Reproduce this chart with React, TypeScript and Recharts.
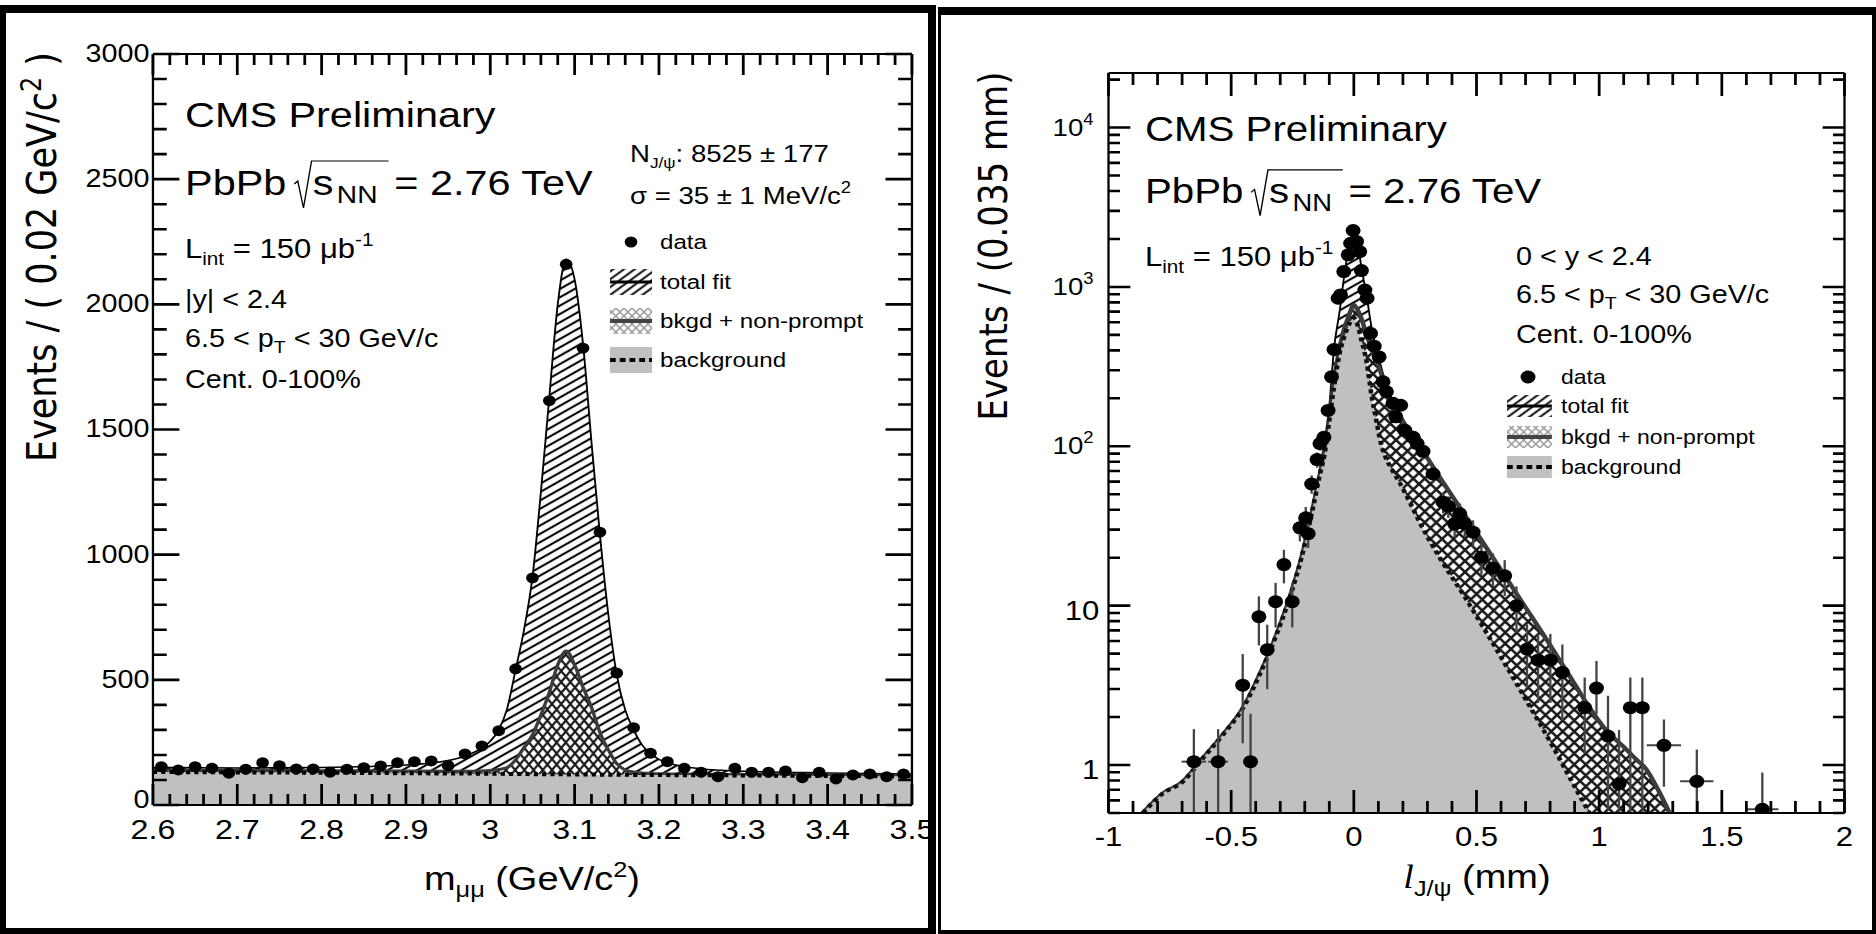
import React from 'react';
import { ComposedChart, Area, Scatter, XAxis, YAxis, ErrorBar, ReferenceLine } from 'recharts';

const STRETCH = 1.15;
const H = 934;
const SANS = '"Liberation Sans", Arial, Helvetica, sans-serif';
const WIDE = '"DejaVu Sans", Verdana, sans-serif';
const SERIF = '"Liberation Serif", "Times New Roman", serif';

// ================= Left panel: dimuon invariant mass =================
const massFitX = [2.6, 2.7, 2.8, 2.9, 2.95, 2.97, 2.99, 3.0, 3.01, 3.02, 3.03, 3.04, 3.05, 3.06, 3.07, 3.08, 3.09, 3.1, 3.11, 3.12, 3.13, 3.14, 3.15, 3.16, 3.17, 3.18, 3.19, 3.2, 3.22, 3.25, 3.3, 3.4, 3.5];
const massTotalFit = [150, 148, 150, 160, 178, 195, 228, 255, 300, 385, 540, 700, 910, 1250, 1630, 2000, 2180, 2100, 1840, 1450, 1080, 760, 520, 380, 300, 240, 205, 182, 160, 145, 135, 128, 124];
const massBkgNonPrompt = [140, 138, 137, 136, 135, 135, 136, 138, 142, 150, 180, 230, 280, 360, 450, 560, 615, 560, 470, 390, 290, 220, 165, 140, 132, 128, 126, 125, 124, 123, 122, 120, 118];
const massBackground = [132, 130, 129, 127, 126, 126, 125, 125, 125, 124, 124, 124, 123, 123, 123, 123, 122, 122, 122, 122, 121, 121, 121, 121, 120, 120, 120, 120, 119, 119, 118, 116, 115];
const massDataX = [2.61, 2.63, 2.65, 2.67, 2.69, 2.71, 2.73, 2.75, 2.77, 2.79, 2.81, 2.83, 2.85, 2.87, 2.89, 2.91, 2.93, 2.95, 2.97, 2.99, 3.01, 3.03, 3.05, 3.07, 3.09, 3.11, 3.13, 3.15, 3.17, 3.19, 3.21, 3.23, 3.25, 3.27, 3.29, 3.31, 3.33, 3.35, 3.37, 3.39, 3.41, 3.43, 3.45, 3.47, 3.49];
const massDataY = [153, 140, 153, 147, 127, 143, 169, 157, 144, 144, 131, 143, 149, 156, 169, 173, 176, 157, 204, 236, 297, 544, 907, 1615, 2160, 1825, 1090, 527, 309, 207, 173, 147, 131, 113, 147, 131, 131, 136, 109, 131, 104, 120, 124, 113, 124];
const massXMajor = [2.6, 2.7, 2.8, 2.9, 3.0, 3.1, 3.2, 3.3, 3.4, 3.5];
const massXLabels = ['2.6', '2.7', '2.8', '2.9', '3', '3.1', '3.2', '3.3', '3.4', '3.5'];
const massYMajor = [0, 500, 1000, 1500, 2000, 2500, 3000];
const massYLabels = ['0', '500', '1000', '1500', '2000', '2500', '3000'];

// ================= Right panel: pseudo-proper decay length =================
const lifeFitX = [-0.86, -0.78, -0.7, -0.614, -0.532, -0.451, -0.383, -0.315, -0.261, -0.213, -0.172, -0.138, -0.12, -0.1, -0.08, -0.057, -0.04, -0.02, -0.01, 0.0, 0.015, 0.03, 0.052, 0.072, 0.09, 0.11, 0.13, 0.15, 0.19, 0.23, 0.27, 0.35, 0.45, 0.54, 0.676, 0.812, 0.907, 0.96, 1.03, 1.1, 1.152, 1.19, 1.24, 1.287];
const lifeTotalFit = [0.5, 0.66, 0.78, 1.11, 1.56, 2.29, 3.72, 6.6, 11.3, 20.1, 37.7, 67, 100, 180, 420, 717, 1150, 1800, 2050, 2300, 1950, 1350, 880, 560, 420, 320, 250, 205, 158, 125, 100, 64, 37.5, 23.2, 11.1, 5.3, 3.1, 2.3, 1.64, 1.3, 1.08, 0.95, 0.7, 0.5];
const lifeBkgNonPrompt = [0.5, 0.66, 0.78, 1.11, 1.56, 2.29, 3.72, 6.6, 11.3, 20.1, 37.7, 67, 95, 150, 260, 420, 540, 660, 730, 770, 720, 640, 500, 410, 350, 290, 240, 195, 152, 120, 99, 64, 37.5, 23.2, 11.1, 5.3, 3.1, 2.3, 1.64, 1.3, 1.08, 0.95, 0.7, 0.5];
const lifeBackground = [0.5, 0.66, 0.78, 1.11, 1.56, 2.29, 3.72, 6.6, 11.3, 20.1, 37.7, 67, 88, 145, 240, 390, 480, 580, 620, 640, 580, 470, 340, 210, 150, 105, 85, 74, 58, 44, 33, 20, 11.5, 6.8, 3.0, 1.3, 0.7, 0.5, null, null, null, null, null, null];
const lifeDataX = [-0.652, -0.553, -0.453, -0.421, -0.387, -0.353, -0.319, -0.285, -0.251, -0.22, -0.196, -0.186, -0.172, -0.15, -0.138, -0.122, -0.105, -0.091, -0.081, -0.064, -0.054, -0.041, -0.023, -0.013, -0.003, 0.011, 0.024, 0.031, 0.045, 0.054, 0.068, 0.083, 0.103, 0.119, 0.133, 0.16, 0.171, 0.191, 0.208, 0.242, 0.258, 0.282, 0.323, 0.364, 0.385, 0.411, 0.432, 0.452, 0.486, 0.52, 0.567, 0.615, 0.663, 0.706, 0.751, 0.801, 0.85, 0.941, 0.989, 1.036, 1.081, 1.127, 1.176, 1.264, 1.398, 1.665];
const lifeDataY = [1.05, 1.05, 3.17, 1.05, 8.53, 5.29, 10.6, 18.1, 10.6, 30.8, 35.6, 28.3, 58, 82.5, 104, 114, 168, 273, 405, 849, 891, 1248, 1590, 1880, 2260, 1930, 1667, 1266, 957, 849, 511, 425, 364, 254, 220, 186, 153, 181, 126, 114, 104, 93, 67, 44.6, 42, 32.5, 37.7, 32.7, 28.9, 20.1, 17.2, 15.4, 10, 5.34, 4.55, 4.55, 3.81, 2.29, 3.04, 1.52, 0.76, 2.29, 2.29, 1.33, 0.79, 0.527];
const lifeErrLow = [0.55, 0.55, 1.8, 0.55, 2.9, 2.3, 3.3, 4.3, 3.3, 5.5, 6, 5.3, 7.6, 9, 10, 10.7, 13, 16.5, 20, 29, 30, 35, 40, 43, 47, 44, 41, 36, 31, 29, 23, 21, 19, 16, 15, 14, 12, 13, 11, 11, 10, 10, 8, 6.7, 6.5, 5.7, 6.1, 5.7, 5.4, 4.5, 4.1, 3.9, 3.2, 2.3, 2.1, 2.1, 1.9, 1.1, 0.95, 1.0, 0.26, 1.79, 1.79, 0.6, 0.29, 0.027];
const lifeErrHigh = [0.63, 0.63, 1.8, 1.05, 2.9, 2.3, 3.3, 4.3, 3.3, 5.5, 6, 5.3, 7.6, 9, 10, 10.7, 13, 16.5, 20, 29, 30, 35, 40, 43, 47, 44, 41, 36, 31, 29, 23, 21, 19, 16, 15, 14, 12, 13, 11, 11, 10, 10, 8, 6.7, 6.5, 5.7, 6.1, 5.7, 5.4, 4.5, 4.1, 3.9, 3.2, 2.3, 2.1, 2.1, 1.9, 1.25, 1.46, 1.2, 0.9, 1.25, 1.25, 0.6, 0.46, 0.37];
const lifeErrX = [0.05, 0.04, 0, 0, 0, 0, 0, 0, 0, 0, 0, 0, 0, 0, 0, 0, 0, 0, 0, 0, 0, 0, 0, 0, 0, 0, 0, 0, 0, 0, 0, 0, 0, 0, 0, 0, 0, 0, 0, 0, 0, 0, 0, 0, 0, 0, 0, 0, 0, 0, 0, 0, 0, 0, 0, 0, 0, 0, 0, 0, 0, 0, 0, 0.07, 0.068, 0.066];
const lifeXMajor = [-1, -0.5, 0, 0.5, 1, 1.5, 2];
const lifeXLabels = ['-1', '-0.5', '0', '0.5', '1', '1.5', '2'];
const lifeYMajor = [1, 10, 100, 1000, 10000];
const lifeYBase = ['1', '10', '10', '10', '10'];
const lifeYExp = ['', '', '2', '3', '4'];

// ================= tables built for the library =================
const massRows = massFitX.map((x, i) => ({ x, tot: massTotalFit[i], bnp: massBkgNonPrompt[i], bkg: massBackground[i] }));
const massPoints = massDataX.map((x, i) => ({ x, y: massDataY[i] }));
const lifeRows = lifeFitX.map((x, i) => ({ x, tot: lifeTotalFit[i], bnp: lifeBkgNonPrompt[i], bkg: lifeBackground[i] }));
const lifePoints = lifeDataX.map((x, i) => ({ x, y: lifeDataY[i], ey: [lifeErrLow[i], lifeErrHigh[i]], ex: lifeErrX[i] }));

function withMinors(majors: number[], n: number) {
  const out: number[] = [...majors];
  for (let i = 0; i < majors.length - 1; i++) {
    const step = (majors[i + 1] - majors[i]) / n;
    for (let j = 1; j < n; j++) out.push(+(majors[i] + j * step).toFixed(6));
  }
  return out.sort((a, b) => a - b);
}
function logTicks() {
  const out: number[] = [0.5, 0.6, 0.7, 0.8, 0.9];
  [1, 10, 100, 1000].forEach((d) => { for (let m = 1; m <= 9; m++) out.push(m * d); });
  out.push(10000, 20000);
  return out;
}

const near = (a: number, b: number) => Math.abs(a - b) < 1e-6 * Math.max(1, Math.abs(b));
const isMajor = (arr: number[], v: number) => arr.some((m) => near(m, v));

// ---- layout (internal, before horizontal stretch) ----
const LW = 814;
const L_YW = 133;
const L_RM = 21;
const L_TOP = 54;
const L_XH = 129;
const L_PL = L_YW;
const L_PR = LW - L_RM;
const L_PT = L_TOP;
const L_PB = H - L_XH;

const RW = 817;
const R_YW = 150;
const R_RM = 27;
const R_TOP = 73;
const R_XH = 121;
const R_PL = R_YW;
const R_PR = RW - R_RM;
const R_PT = R_TOP;
const R_PB = H - R_XH;

// ---- frame tick marks (inward, all four sides), placed with the same linear / log mapping as the axes ----
function FrameTicks({ xPos, yPos, pl, pr, pt, pb, xl, yl }: any) {
  let d = '';
  xPos.forEach(([p, maj]: [number, boolean]) => {
    const len = maj ? xl[0] : xl[1];
    d += `M${p.toFixed(2)},${pb} V${(pb - len).toFixed(2)} M${p.toFixed(2)},${pt} V${(pt + len).toFixed(2)} `;
  });
  let e = '';
  yPos.forEach(([p, maj]: [number, boolean]) => {
    const len = maj ? yl[0] : yl[1];
    e += `M${pl},${p.toFixed(2)} H${(pl + len).toFixed(2)} M${pr},${p.toFixed(2)} H${(pr - len).toFixed(2)} `;
  });
  return (
    <g>
      <path d={d} stroke="#000" strokeWidth={2.4} fill="none" />
      <path d={e} stroke="#000" strokeWidth={2.6} fill="none" />
    </g>
  );
}
const massTickX = withMinors(massXMajor, 5).map((v) => [L_PL + ((v - 2.6) / 0.9) * (L_PR - L_PL), isMajor(massXMajor, v)]);
const massTickY = withMinors(massYMajor, 5).map((v) => [L_PB - (v / 3000) * (L_PB - L_PT), isMajor(massYMajor, v)]);
const LOG_LO = Math.log10(0.5);
const LOG_HI = Math.log10(22000);
const lifeTickX = withMinors(lifeXMajor, 5).map((v) => [R_PL + ((v + 1) / 3) * (R_PR - R_PL), isMajor(lifeXMajor, v)]);
const lifeTickY = logTicks().map((v) => [R_PB - ((Math.log10(v) - LOG_LO) / (LOG_HI - LOG_LO)) * (R_PB - R_PT), isMajor(lifeYMajor, v)]);

// ---- tick labels ----
function makeXLabel(majors: number[], labels: string[], fs: number, off: number) {
  return (props: any) => {
    const { x, y, payload } = props;
    const idx = majors.findIndex((m) => near(m, payload.value));
    if (idx < 0) return <g />;
    return <text x={x} y={y + off} textAnchor="middle" fontSize={fs} fontFamily={SANS} fill="#000">{labels[idx]}</text>;
  };
}
function makeYLabel(majors: number[], labels: string[], fs: number, gap: number, base: number, baseFirst: number) {
  return (props: any) => {
    const { x, y, payload } = props;
    const idx = majors.findIndex((m) => near(m, payload.value));
    if (idx < 0) return <g />;
    return <text x={x - gap} y={y + (idx === 0 ? baseFirst : base)} textAnchor="end" fontSize={fs} fontFamily={SANS} fill="#000">{labels[idx]}</text>;
  };
}
function lifeYLabel(props: any) {
  const { x, y, payload } = props;
  const idx = lifeYMajor.findIndex((m) => near(m, payload.value));
  if (idx < 0) return <g />;
  if (lifeYExp[idx]) {
    return (
      <text x={x - 13} y={y + 8} textAnchor="end" fontSize={24} fontFamily={SANS} fill="#000">
        {lifeYBase[idx]}
        <tspan fontSize={16} dy={-11}>{lifeYExp[idx]}</tspan>
      </text>
    );
  }
  return <text x={x - 8} y={y + 14} textAnchor="end" fontSize={27} fontFamily={SANS} fill="#000">{lifeYBase[idx]}</text>;
}

const dot = (r: number) => (p: any) => <circle cx={p.cx} cy={p.cy} r={r} fill="#000" />;

function Patterns({ p, cw, ch, xw }: { p: string; cw: number; ch: number; xw: number }) {
  return (
    <defs>
      <pattern id={p + 'Hatch'} patternUnits="userSpaceOnUse" width={8} height={7} patternTransform="rotate(-33)">
        <rect width={8} height={7} fill="#fff" />
        <line x1={0} y1={3.5} x2={8} y2={3.5} stroke="#000" strokeWidth={2} />
      </pattern>
      <pattern id={p + 'XHatch'} patternUnits="userSpaceOnUse" width={cw} height={ch}>
        <rect width={cw} height={ch} fill="#fff" />
        <path d={`M0,0 L${cw},${ch} M${cw},0 L0,${ch}`} stroke="#1a1a1a" strokeWidth={xw} />
      </pattern>
    </defs>
  );
}

function MassChart() {
  return (
    <ComposedChart width={LW} height={H} data={massRows} margin={{ top: L_TOP, right: L_RM, bottom: 0, left: 0 }}>
      <Patterns p="m" cw={8} ch={11} xw={2} />
      <Area type="monotone" dataKey="tot" stroke="#000" strokeWidth={1.6} fill="url(#mHatch)" fillOpacity={1} dot={false} activeDot={false} isAnimationActive={false} />
      <Area type="monotone" dataKey="bnp" stroke="#3c3c3c" strokeWidth={3} fill="url(#mXHatch)" fillOpacity={1} dot={false} activeDot={false} isAnimationActive={false} />
      <Area type="monotone" dataKey="bkg" stroke="#000" strokeWidth={4} strokeDasharray="3.6 3.6" fill="#c0c0c0" fillOpacity={1} dot={false} activeDot={false} isAnimationActive={false} />
      <Scatter data={massPoints} dataKey="y" shape={dot(5.5)} isAnimationActive={false} />
      <ReferenceLine y={3000} stroke="#000" strokeWidth={2.2} />
      <ReferenceLine x={3.5} stroke="#000" strokeWidth={2} />
      <XAxis type="number" dataKey="x" domain={[2.6, 3.5]} allowDataOverflow ticks={massXMajor} interval={0}
        tick={makeXLabel(massXMajor, massXLabels, 28, 34)} tickLine={false} tickSize={0} tickMargin={0}
        axisLine={{ stroke: '#000', strokeWidth: 2.2 }} height={L_XH} />
      <YAxis type="number" domain={[0, 3000]} allowDataOverflow ticks={massYMajor} interval={0}
        tick={makeYLabel(massYMajor, massYLabels, 25, 3, 8, 3)} tickLine={false} tickSize={0} tickMargin={0}
        axisLine={{ stroke: '#000', strokeWidth: 2 }} width={L_YW} />
    </ComposedChart>
  );
}

function LifeChart() {
  return (
    <ComposedChart width={RW} height={H} data={lifeRows} margin={{ top: R_TOP, right: R_RM, bottom: 0, left: 0 }}>
      <Patterns p="l" cw={10} ch={11} xw={2.4} />
      <Area type="monotone" dataKey="tot" stroke="#000" strokeWidth={1.6} fill="url(#lHatch)" fillOpacity={1} dot={false} activeDot={false} isAnimationActive={false} />
      <Area type="monotone" dataKey="bnp" stroke="#3c3c3c" strokeWidth={4} fill="url(#lXHatch)" fillOpacity={1} dot={false} activeDot={false} isAnimationActive={false} />
      <Area type="monotone" dataKey="bkg" stroke="#111" strokeWidth={4} strokeDasharray="4 3.5" fill="#c0c0c0" fillOpacity={1} dot={false} activeDot={false} isAnimationActive={false} />
      <Scatter data={lifePoints} dataKey="y" shape={dot(6.5)} isAnimationActive={false}>
        <ErrorBar dataKey="ey" direction="y" width={0} stroke="#444" strokeWidth={2} isAnimationActive={false} />
        <ErrorBar dataKey="ex" direction="x" width={0} stroke="#444" strokeWidth={2} isAnimationActive={false} />
      </Scatter>
      <ReferenceLine y={22000} stroke="#000" strokeWidth={2.2} />
      <ReferenceLine x={2} stroke="#000" strokeWidth={2} />
      <XAxis type="number" dataKey="x" domain={[-1, 2]} allowDataOverflow ticks={lifeXMajor} interval={0}
        tick={makeXLabel(lifeXMajor, lifeXLabels, 27, 33)} tickLine={false} tickSize={0} tickMargin={0}
        axisLine={{ stroke: '#000', strokeWidth: 2.2 }} height={R_XH} />
      <YAxis type="number" scale="log" domain={[0.5, 22000]} allowDataOverflow ticks={lifeYMajor} interval={0}
        tick={lifeYLabel} tickLine={false} tickSize={0} tickMargin={0}
        axisLine={{ stroke: '#000', strokeWidth: 2 }} width={R_YW} />
    </ComposedChart>
  );
}

function PbPb({ x, y, fs }: { x: number; y: number; fs: number }) {
  const s = fs / 36;
  return (
    <g>
      <text x={x} y={y} fontSize={fs}>PbPb</text>
      <polyline points={`${x + 95 * s},${y - 11 * s} ${x + 98 * s},${y - 14 * s} ${x + 103 * s},${y + 13 * s} ${x + 110 * s},${y - 34 * s} ${x + 177 * s},${y - 34 * s}`}
        fill="none" stroke="#000" strokeWidth={1.2} />
      <text x={x + 111 * s} y={y} fontSize={fs}>s</text>
      <text x={x + 132 * s} y={y + 8 * s} fontSize={fs * 0.68}>NN</text>
      <text x={x + 182 * s} y={y} fontSize={fs}>= 2.76 TeV</text>
    </g>
  );
}

function LegendBox({ pfx, x0, w, h, cx, r, tx, fs, rows }: any) {
  const names = ['data', 'total fit', 'bkgd + non-prompt', 'background'];
  return (
    <g>
      <defs>
        <pattern id={pfx + 'lgH'} patternUnits="userSpaceOnUse" width={7} height={6} patternTransform="rotate(-40)">
          <rect width={7} height={6} fill="#fff" />
          <line x1={0} y1={3} x2={7} y2={3} stroke="#000" strokeWidth={1.8} />
        </pattern>
        <pattern id={pfx + 'lgX'} patternUnits="userSpaceOnUse" width={7} height={8}>
          <rect width={7} height={8} fill="#fff" />
          <path d="M0,0 L7,8 M7,0 L0,8" stroke="#999" strokeWidth={1.4} />
        </pattern>
      </defs>
      <circle cx={cx} cy={rows[0]} r={r} fill="#000" />
      <rect x={x0} y={rows[1] - h / 2} width={w} height={h} fill={`url(#${pfx}lgH)`} />
      <line x1={x0} x2={x0 + w} y1={rows[1]} y2={rows[1]} stroke="#000" strokeWidth={3} />
      <rect x={x0} y={rows[2] - h / 2} width={w} height={h} fill={`url(#${pfx}lgX)`} />
      <line x1={x0} x2={x0 + w} y1={rows[2]} y2={rows[2]} stroke="#444" strokeWidth={4} />
      <rect x={x0} y={rows[3] - h / 2} width={w} height={h} fill="#c0c0c0" />
      <line x1={x0} x2={x0 + w} y1={rows[3]} y2={rows[3]} stroke="#000" strokeWidth={4} strokeDasharray="5 3.5" />
      {names.map((n, i) => (
        <text key={n} x={tx} y={rows[i] + fs * 0.33} fontSize={fs}>{n}</text>
      ))}
    </g>
  );
}

function MassOverlay() {
  return (
    <svg width={LW} height={H} fontFamily={SANS} fill="#000" style={{ position: 'absolute', left: 0, top: 0, pointerEvents: 'none' }}>
      <FrameTicks xPos={massTickX} yPos={massTickY} pl={L_PL} pr={L_PR} pt={L_PT} pb={L_PB} xl={[21, 11]} yl={[23, 12]} />
      <text x={160.9} y={127} fontSize={36}>CMS Preliminary</text>
      <PbPb x={160.9} y={195} fs={36} />
      <text x={160.9} y={258} fontSize={27}>L<tspan fontSize={18} dy={7}>int</tspan><tspan dy={-7}> = 150 μb</tspan><tspan fontSize={18} dy={-12}>-1</tspan></text>
      <text x={160.9} y={308} fontSize={25}>{'|y| < 2.4'}</text>
      <text x={160.9} y={347} fontSize={25}>{'6.5 < p'}<tspan fontSize={17} dy={6}>T</tspan><tspan dy={-6}>{' < 30 GeV/c'}</tspan></text>
      <text x={160.9} y={388} fontSize={25}>Cent. 0-100%</text>
      <text x={547.8} y={162} fontSize={24}>N<tspan fontSize={15} dy={6}>J/ψ</tspan><tspan dy={-6}>: 8525 ± 177</tspan></text>
      <text x={547.8} y={204} fontSize={24}>σ = 35 ± 1 MeV/c<tspan fontSize={16} dy={-11}>2</tspan></text>
      <LegendBox pfx="m" x0={530.4} w={36.6} h={26} cx={548.7} r={5.5} tx={573.9} fs={21} rows={[242, 282, 321, 360]} />
      <text transform="translate(49,257) rotate(-90)" textAnchor="middle" fontSize={35} fontFamily={WIDE}>
        Events / ( 0.02 GeV/c<tspan fontSize={24} dy={-13}>2</tspan><tspan dy={13}> )</tspan>
      </text>
      <text x={462.6} y={890} textAnchor="middle" fontSize={33}>
        m<tspan fontSize={22} dy={7}>μμ</tspan><tspan dy={-7}> (GeV/c</tspan><tspan fontSize={22} dy={-13}>2</tspan><tspan dy={13}>)</tspan>
      </text>
    </svg>
  );
}

function LifeOverlay() {
  return (
    <svg width={RW} height={H} fontFamily={SANS} fill="#000" style={{ position: 'absolute', left: 0, top: 0, pointerEvents: 'none' }}>
      <FrameTicks xPos={lifeTickX} yPos={lifeTickY} pl={R_PL} pr={R_PR} pt={R_PT} pb={R_PB} xl={[23, 12]} yl={[19, 10]} />
      <text x={181.7} y={141} fontSize={35}>CMS Preliminary</text>
      <PbPb x={181.7} y={203} fs={35} />
      <text x={181.7} y={266} fontSize={27}>L<tspan fontSize={18} dy={7}>int</tspan><tspan dy={-7}> = 150 μb</tspan><tspan fontSize={18} dy={-12}>-1</tspan></text>
      <text x={504.3} y={265} fontSize={25}>{'0 < y < 2.4'}</text>
      <text x={504.3} y={303} fontSize={25}>{'6.5 < p'}<tspan fontSize={17} dy={6}>T</tspan><tspan dy={-6}>{' < 30 GeV/c'}</tspan></text>
      <text x={504.3} y={343} fontSize={25}>Cent. 0-100%</text>
      <LegendBox pfx="l" x0={496.5} w={39} h={22} cx={514.8} r={6.5} tx={543.5} fs={20} rows={[377, 406, 437, 467]} />
      <text transform="translate(62,246) rotate(-90)" textAnchor="middle" fontSize={34} fontFamily={WIDE}>Events / (0.035 mm)</text>
      <text x={470.4} y={888} textAnchor="middle" fontSize={33}>
        <tspan fontFamily={SERIF} fontStyle="italic">l</tspan><tspan fontSize={22} dy={8}>J/ψ</tspan><tspan dy={-8}> (mm)</tspan>
      </text>
    </svg>
  );
}

const bar = (l: number, t: number, w: number, h: number) => (
  <div style={{ position: 'absolute', left: l, top: t, width: w, height: h, background: '#000' }} />
);

export default function App() {
  return (
    <div style={{ position: 'absolute', left: 0, top: 0, width: 1876, height: H, background: '#fff', overflow: 'hidden' }}>
      <div style={{ position: 'absolute', left: 0, top: 0, width: LW, height: H, transform: `scaleX(${STRETCH})`, transformOrigin: '0 0' }}>
        <MassChart />
        <MassOverlay />
      </div>
      <div style={{ position: 'absolute', left: 936, top: 0, width: RW, height: H, transform: `scaleX(${STRETCH})`, transformOrigin: '0 0' }}>
        <LifeChart />
        <LifeOverlay />
      </div>
      {bar(0, 5, 936, 8)}
      {bar(0, 5, 6, 929)}
      {bar(928, 5, 8, 929)}
      {bar(0, 928, 936, 6)}
      {bar(938, 7, 938, 8)}
      {bar(938, 7, 3, 927)}
      {bar(1872, 7, 4, 927)}
      {bar(938, 930, 938, 4)}
    </div>
  );
}
